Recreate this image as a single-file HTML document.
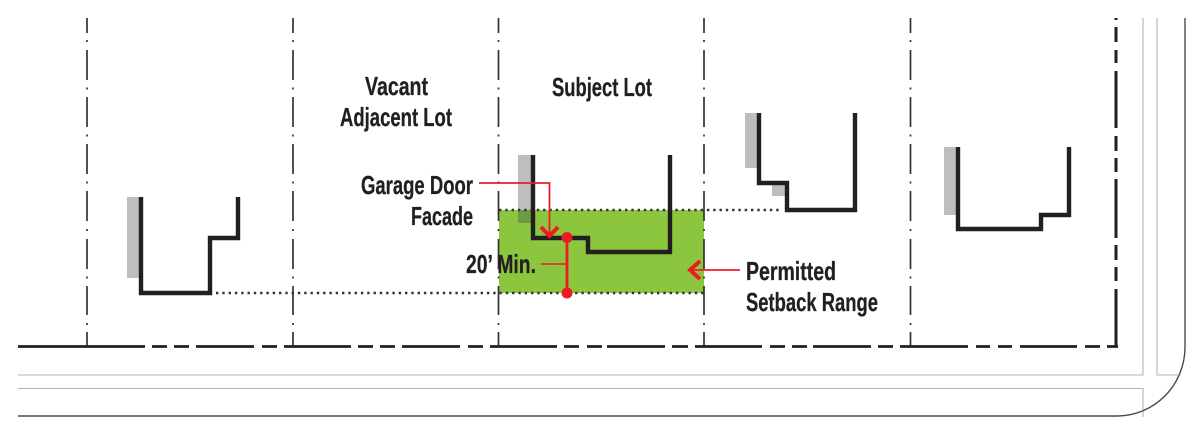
<!DOCTYPE html>
<html><head><meta charset="utf-8"><style>
html,body{margin:0;padding:0;background:#fff;width:1194px;height:425px;overflow:hidden}
svg{display:block}
text{font-family:"Liberation Sans",sans-serif;font-weight:700;font-size:26px;fill:#231f20;stroke:#231f20;stroke-width:.3px}
</style></head><body>
<svg width="1194" height="425" viewBox="0 0 1194 425" xmlns="http://www.w3.org/2000/svg">
<rect width="1194" height="425" fill="#fff"/>
<!-- green zone -->
<rect x="499" y="210" width="205" height="83" fill="#8cc63f"/>
<!-- garage rects -->
<rect x="127" y="197" width="13" height="81" fill="#bcbec0"/>
<rect x="518" y="155" width="14" height="55" fill="#bcbec0"/>
<rect x="518" y="210" width="14" height="13" fill="#6f9a3f"/>
<rect x="745" y="113" width="13" height="55" fill="#bcbec0"/>
<rect x="772" y="185" width="14" height="11" fill="#bcbec0"/>
<rect x="944" y="147" width="13" height="68" fill="#bcbec0"/>
<!-- street lines -->
<g fill="none" stroke="#b5b5b5" stroke-width="1.1">
<path d="M18 375H1143V18"/>
<path d="M18 388.5H1143V417"/>
<path d="M1157 18V375H1178"/>
</g>
<path d="M18 416H1117A68 69 0 0 0 1185 347V18" fill="none" stroke="#4a4a4a" stroke-width="1.4"/>
<!-- lot verticals -->
<g fill="none" stroke="#333" stroke-width="1.7">
<path d="M87 18V33M87 40V42M87 50V80M87 87.500V89.500M87 97V127M87 134.500V136.500M87 144V174M87 181.500V183.500M87 191V221M87 229V231M87 239V269M87 276.500V278.500M87 286V315M87 323V325M87 332V347"/>
<path d="M293 18V33M293 40V42M293 50V80M293 87.500V89.500M293 97V127M293 134.500V136.500M293 144V174M293 181.500V183.500M293 191V221M293 229V231M293 239V269M293 276.500V278.500M293 286V315M293 323V325M293 332V347"/>
<path d="M498.500 18V33M498.500 40V42M498.500 50V80M498.500 87.500V89.500M498.500 97V127M498.500 134.500V136.500M498.500 144V174M498.500 181.500V183.500M498.500 191V221M498.500 229V231M498.500 239V269M498.500 276.500V278.500M498.500 286V315M498.500 323V325M498.500 332V347"/>
<path d="M704 18V33M704 40V42M704 50V80M704 87.500V89.500M704 97V127M704 134.500V136.500M704 144V174M704 181.500V183.500M704 191V221M704 229V231M704 239V269M704 276.500V278.500M704 286V315M704 323V325M704 332V347"/>
<path d="M910.500 18V33M910.500 40V42M910.500 50V80M910.500 87.500V89.500M910.500 97V127M910.500 134.500V136.500M910.500 144V174M910.500 181.500V183.500M910.500 191V221M910.500 229V231M910.500 239V269M910.500 276.500V278.500M910.500 286V315M910.500 323V325M910.500 332V347"/>
</g>
<!-- front lot line -->
<path d="M18 346.500H145M152 346.500H167M174 346.500H189M196 346.500H254M262 346.500H277M284 346.500H351M358 346.500H373M380 346.500H395M402 346.500H460M468 346.500H483M490 346.500H557M564 346.500H579M587 346.500H602M607 346.500H665M672 346.500H688M695 346.500H762M770 346.500H785M792 346.500H807M813 346.500H871M878 346.500H893M900 346.500H968M976 346.500H990M998 346.500H1012M1020 346.500H1077M1085 346.500H1100M1107 346.500H1118" fill="none" stroke="#231f20" stroke-width="2.800"/>
<!-- right lot line -->
<path d="M1116 18V20M1116 27V42M1116 50V63M1116 71V128M1116 136V151M1116 158V172M1116 179V238M1116 245V260M1116 267V281M1116 289V347.500" fill="none" stroke="#231f20" stroke-width="3"/>
<!-- dotted setback lines -->
<g fill="none" stroke="#333" stroke-width="2.400" stroke-dasharray="2.400 3.900">
<path d="M216 293H704"/>
<path d="M499 210H782"/>
</g>
<!-- houses -->
<g fill="none" stroke="#231f20" stroke-width="4.400" stroke-linejoin="miter">
<path d="M141 197V293H210V238H238V197"/>
<path d="M533 155V238H588V252H670V155"/>
<path d="M759 113V183H787V210H855V113"/>
<path d="M958 147V229H1041V215H1069V147"/>
</g>
<!-- red annotations -->
<g fill="none" stroke="#ed1c24">
<path d="M479 183H549.500V234" stroke-width="1.800"/>
<path d="M541 227L549.500 236L558 227" stroke-width="4"/>
<path d="M567 237V293" stroke-width="2.800"/>
<path d="M541 264H567" stroke-width="1.500"/>
<path d="M691 270H740" stroke-width="1.800"/>
<path d="M700 261L690 270L700 279" stroke-width="4"/>
</g>
<circle cx="567" cy="237.500" r="5.500" fill="#ed1c24"/>
<circle cx="567" cy="293" r="5.500" fill="#ed1c24"/>
<!-- labels -->
<text x="365" y="95" textLength="63" lengthAdjust="spacingAndGlyphs">Vacant</text>
<text x="340" y="126" textLength="112" lengthAdjust="spacingAndGlyphs">Adjacent Lot</text>
<text x="552" y="96" textLength="100" lengthAdjust="spacingAndGlyphs">Subject Lot</text>
<text x="361" y="194" textLength="112" lengthAdjust="spacingAndGlyphs">Garage Door</text>
<text x="411" y="225" textLength="62" lengthAdjust="spacingAndGlyphs">Facade</text>
<text x="466" y="273" textLength="70" lengthAdjust="spacingAndGlyphs">20’ Min.</text>
<text x="746" y="280" textLength="90" lengthAdjust="spacingAndGlyphs">Permitted</text>
<text x="746" y="311" textLength="132" lengthAdjust="spacingAndGlyphs">Setback Range</text>
</svg>
</body></html>
